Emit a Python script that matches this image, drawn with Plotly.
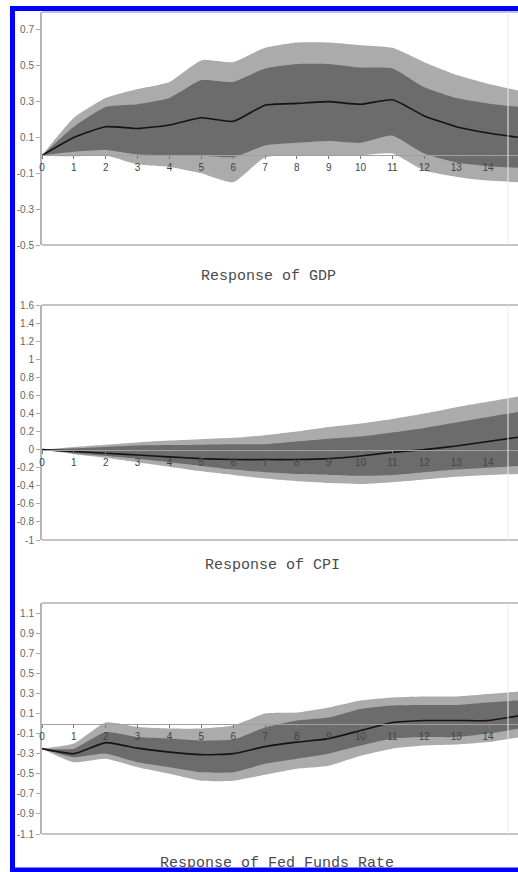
import plotly.graph_objects as go

W, H = 518, 872

# Horizon (periods after the shock)
periods = list(range(16))

# Response of GDP: median with inner and outer error bands
gdp_outer_hi = [0, 0.21, 0.32, 0.37, 0.41, 0.53, 0.52, 0.60, 0.63, 0.63, 0.615, 0.60, 0.52, 0.45, 0.40, 0.36]
gdp_inner_hi = [0, 0.16, 0.27, 0.285, 0.32, 0.42, 0.41, 0.485, 0.51, 0.51, 0.49, 0.485, 0.38, 0.32, 0.29, 0.27]
gdp_median = [0, 0.10, 0.16, 0.15, 0.17, 0.21, 0.19, 0.28, 0.29, 0.30, 0.285, 0.31, 0.22, 0.16, 0.125, 0.10]
gdp_inner_lo = [0, 0.02, 0.03, 0.005, 0.0, 0.0, -0.01, 0.055, 0.07, 0.08, 0.07, 0.11, 0.01, -0.04, -0.06, -0.07]
gdp_outer_lo = [0, -0.005, 0.0, -0.05, -0.065, -0.10, -0.15, -0.01, 0.0, 0.0, 0.0, 0.01, -0.085, -0.12, -0.14, -0.15]

# Response of CPI
cpi_outer_hi = [0, 0.03, 0.055, 0.08, 0.10, 0.115, 0.13, 0.16, 0.20, 0.25, 0.29, 0.34, 0.40, 0.47, 0.53, 0.59]
cpi_inner_hi = [0, 0.015, 0.03, 0.045, 0.05, 0.055, 0.06, 0.06, 0.09, 0.12, 0.145, 0.19, 0.24, 0.30, 0.36, 0.42]
cpi_median = [0, -0.02, -0.04, -0.06, -0.08, -0.10, -0.11, -0.11, -0.11, -0.10, -0.07, -0.03, 0.0, 0.04, 0.09, 0.14]
cpi_inner_lo = [0, -0.04, -0.07, -0.10, -0.14, -0.18, -0.22, -0.25, -0.27, -0.28, -0.29, -0.28, -0.25, -0.22, -0.20, -0.18]
cpi_outer_lo = [0, -0.05, -0.09, -0.14, -0.19, -0.24, -0.28, -0.32, -0.35, -0.37, -0.38, -0.36, -0.33, -0.30, -0.28, -0.27]

# Response of Fed Funds Rate
ffr_outer_hi = [-0.25, -0.20, 0.01, -0.035, -0.05, -0.05, -0.02, 0.10, 0.11, 0.16, 0.23, 0.26, 0.27, 0.27, 0.295, 0.32]
ffr_inner_hi = [-0.25, -0.25, -0.085, -0.135, -0.15, -0.17, -0.16, -0.04, 0.03, 0.06, 0.145, 0.18, 0.185, 0.185, 0.21, 0.23]
ffr_median = [-0.25, -0.30, -0.19, -0.245, -0.285, -0.31, -0.30, -0.23, -0.185, -0.15, -0.07, 0.01, 0.03, 0.03, 0.03, 0.08]
ffr_inner_lo = [-0.25, -0.335, -0.30, -0.385, -0.435, -0.485, -0.485, -0.40, -0.35, -0.30, -0.22, -0.15, -0.135, -0.135, -0.10, -0.05]
ffr_outer_lo = [-0.25, -0.385, -0.35, -0.435, -0.50, -0.57, -0.57, -0.51, -0.45, -0.42, -0.32, -0.25, -0.22, -0.21, -0.185, -0.135]

titles = ["Response of GDP", "Response of CPI", "Response of Fed Funds Rate"]

gdp_ticks = [0.7, 0.5, 0.3, 0.1, -0.1, -0.3, -0.5]
cpi_ticks = [1.6, 1.4, 1.2, 1, 0.8, 0.6, 0.4, 0.2, 0, -0.2, -0.4, -0.6, -0.8, -1]
ffr_ticks = [1.1, 0.9, 0.7, 0.5, 0.3, 0.1, -0.1, -0.3, -0.5, -0.7, -0.9, -1.1]

panels = [
    dict(bands=(gdp_outer_lo, gdp_outer_hi, gdp_inner_lo, gdp_inner_hi, gdp_median),
         ticks=gdp_ticks, yrange=[-0.5, 0.8], top=12, bottom=245, title_xy=(268, 277)),
    dict(bands=(cpi_outer_lo, cpi_outer_hi, cpi_inner_lo, cpi_inner_hi, cpi_median),
         ticks=cpi_ticks, yrange=[-1.0, 1.6], top=305, bottom=540, title_xy=(272, 565)),
    dict(bands=(ffr_outer_lo, ffr_outer_hi, ffr_inner_lo, ffr_inner_hi, ffr_median),
         ticks=ffr_ticks, yrange=[-1.1, 1.2], top=603, bottom=834, title_xy=(277, 863)),
]

OUTER = "#ababab"
INNER = "#6c6c6c"
LINE = "#141414"
FRAME = "#c4c4c4"
BORDER = "#0000ff"

X_LEFT = 42
x_dom = [X_LEFT / W, 1.0]
x_range = [0, 14.94]
SMOOTH = dict(shape="spline", smoothing=0.5)


def py(y):
    return 1 - y / H


def px(x):
    return x / W


fig = go.Figure()
shapes = []
annotations = []

for i, p in enumerate(panels, start=1):
    xa = "x" if i == 1 else f"x{i}"
    ya = "y" if i == 1 else f"y{i}"
    olo, ohi, ilo, ihi, med = p["bands"]

    common = dict(x=periods, mode="lines", xaxis=xa, yaxis=ya, showlegend=False, hoverinfo="skip")
    fig.add_trace(go.Scatter(y=olo, line=dict(width=0, color=OUTER, **SMOOTH), **common))
    fig.add_trace(go.Scatter(y=ohi, line=dict(width=0, color=OUTER, **SMOOTH),
                             fill="tonexty", fillcolor=OUTER, **common))
    fig.add_trace(go.Scatter(y=ilo, line=dict(width=0, color=INNER, **SMOOTH), **common))
    fig.add_trace(go.Scatter(y=ihi, line=dict(width=0, color=INNER, **SMOOTH),
                             fill="tonexty", fillcolor=INNER, **common))
    fig.add_trace(go.Scatter(y=med, line=dict(width=1.6, color=LINE, **SMOOTH), **common))

    d0, d1 = py(p["bottom"]), py(p["top"])
    r0, r1 = p["yrange"]
    zero_pos = d0 + (0 - r0) / (r1 - r0) * (d1 - d0)

    xkey = "xaxis" if i == 1 else f"xaxis{i}"
    ykey = "yaxis" if i == 1 else f"yaxis{i}"
    fig.update_layout(**{
        xkey: dict(domain=x_dom, range=x_range, anchor="free", position=zero_pos,
                   automargin=False,
                   tickmode="array", tickvals=periods, ticktext=[str(t) for t in periods],
                   ticks="outside", ticklen=3, tickcolor="#777", tickwidth=1,
                   showline=True, linecolor="#a0a0a0", linewidth=1,
                   showgrid=False, zeroline=False,
                   tickfont=dict(family="Liberation Sans", size=10, color="#444")),
        ykey: dict(domain=[d0, d1], range=p["yrange"], anchor=xa,
                   automargin=False,
                   tickmode="array", tickvals=p["ticks"], ticktext=[f"{t:g}" for t in p["ticks"]],
                   ticks="outside", ticklen=4, tickcolor="#aaa",
                   showline=True, linecolor="#b5b5b5", linewidth=2,
                   showgrid=False, zeroline=False,
                   tickfont=dict(family="Liberation Sans", size=10, color="#666")),
    })

    # plot area frame: top, bottom and a faint right edge
    for yy in (p["top"], p["bottom"]):
        shapes.append(dict(type="line", xref="paper", yref="paper",
                           x0=px(X_LEFT), x1=1.0, y0=py(yy), y1=py(yy),
                           line=dict(color=FRAME, width=2)))
    shapes.append(dict(type="line", xref="paper", yref="paper",
                       x0=px(508), x1=px(508), y0=py(p["top"]), y1=py(p["bottom"]),
                       line=dict(color="#ebebeb", width=1)))

    tx, ty = p["title_xy"]
    annotations.append(dict(text=titles[i - 1], xref="paper", yref="paper",
                            x=px(tx), y=py(ty), xanchor="center", yanchor="middle",
                            showarrow=False,
                            font=dict(family="Liberation Mono", size=15, color="#4a4a4a")))

# blue border on the left, top and bottom edges
for x0, y0, x1, y1 in [(12.5, 6, 12.5, 872), (10, 8.5, 518, 8.5), (10, 870, 518, 870)]:
    shapes.append(dict(type="line", xref="paper", yref="paper",
                       x0=px(x0), x1=px(x1), y0=py(y0), y1=py(y1),
                       line=dict(color=BORDER, width=5)))

fig.update_layout(width=W, height=H, margin=dict(l=0, r=0, t=0, b=0, autoexpand=False),
                  paper_bgcolor="white", plot_bgcolor="white",
                  shapes=shapes, annotations=annotations, showlegend=False)

fig.write_html("out.html", config={"displayModeBar": False})
